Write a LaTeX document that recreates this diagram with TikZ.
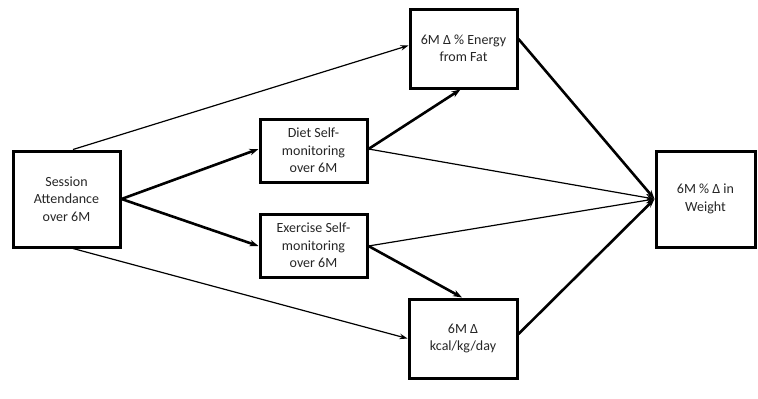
\documentclass[tikz,border=0pt]{standalone}
\usepackage{fontspec}
\setmainfont{Carlito}
\usetikzlibrary{arrows.meta}
\begin{document}
\begin{tikzpicture}[x=1pt,y=-1pt,
  box/.style={draw=black,line width=3pt,fill=white,rectangle,inner sep=2pt,align=center,
    font=\fontsize{14}{17.5}\selectfont,text=black!85},
  thin/.style={line width=1.2pt,-{Stealth[length=8pt,width=5.5pt]}},
  thick/.style={line width=2.6pt,-{Stealth[length=9pt,width=6.5pt]}}]
\useasboundingbox (0,0) rectangle (758,399);
\node[box,minimum width=107pt,minimum height=96pt] (sess) at (66.5,199) {Session\\Attendance\\over 6M};
\node[box,minimum width=107pt,minimum height=63pt] (diet) at (313.5,150.5) {Diet Self-\\monitoring\\over 6M};
\node[box,minimum width=107pt,minimum height=63pt] (exer) at (313.5,245.5) {Exercise Self-\\monitoring\\over 6M};
\node[box,minimum width=107pt,minimum height=79pt] (fat) at (463.5,48.5) {6M Δ \% Energy\\from Fat};
\node[box,minimum width=108pt,minimum height=79pt] (kcal) at (463,338.5) {6M Δ\\kcal/kg/day};
\node[box,minimum width=99pt,minimum height=96pt] (wt) at (705.5,199) {6M \% Δ in\\Weight};
\draw[thin] ([xshift=6.5pt]sess.north) -- ([yshift=3pt]fat.west);
\draw[thin] ([xshift=6.5pt]sess.south) -- (kcal.west);
\draw[thick] (sess.east) -- ([yshift=1.5pt]diet.west);
\draw[thick] (sess.east) -- ([yshift=-0.5pt]exer.west);
\draw[thick] ([yshift=1.5pt]diet.east) -- ([xshift=-3pt]fat.south);
\draw[thick] ([yshift=-0.5pt]exer.east) -- ([xshift=-1pt]kcal.north);
\draw[thin] ([yshift=1.5pt]diet.east) -- (wt.west);
\draw[thin] ([yshift=-0.5pt]exer.east) -- (wt.west);
\draw[thick] ([yshift=9.5pt]fat.east) -- (wt.west);
\draw[thick] ([yshift=4.5pt]kcal.east) -- (wt.west);
\end{tikzpicture}
\end{document}
